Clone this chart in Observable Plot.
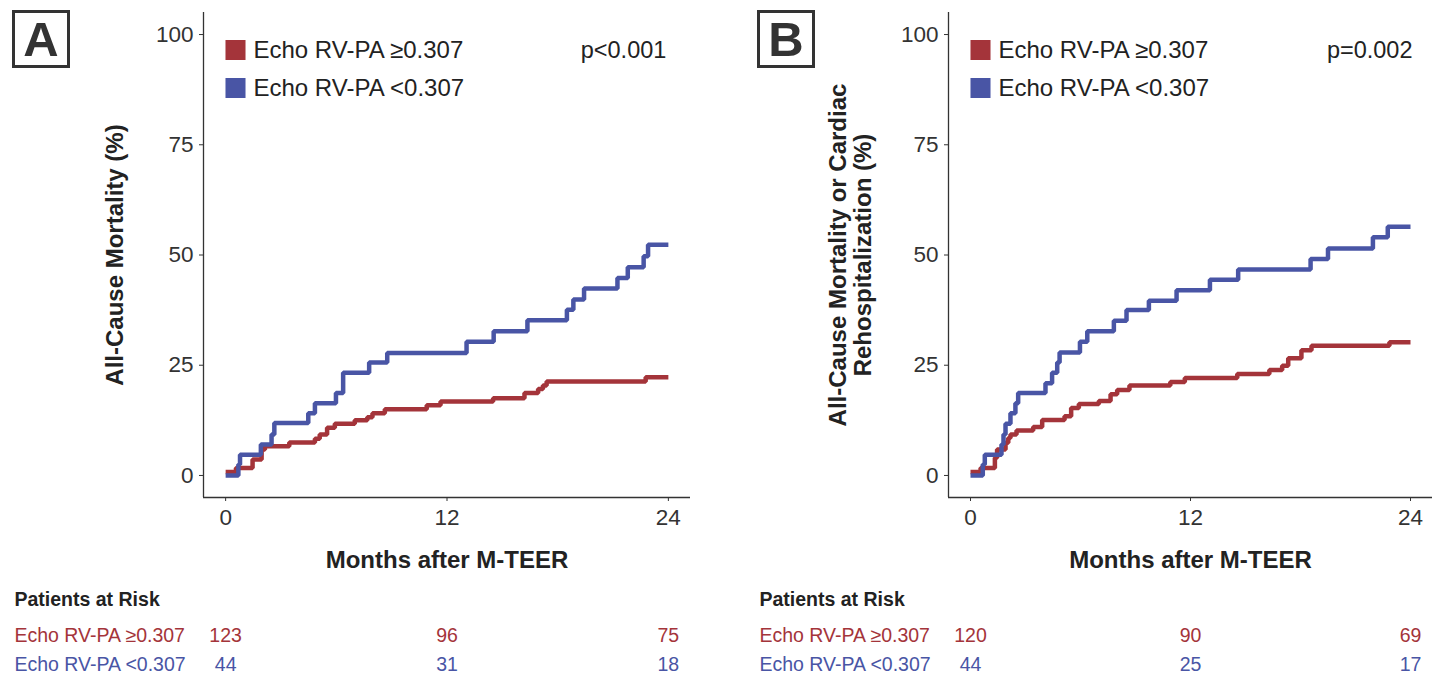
<!DOCTYPE html>
<html>
<head>
<meta charset="utf-8">
<script src="https://cdn.jsdelivr.net/npm/d3@7"></script>
<script src="https://cdn.jsdelivr.net/npm/@observablehq/plot@0.6"></script>
<style>
  body { margin: 0; background: #fff; }
  #wrap { position: relative; width: 1450px; height: 690px; display: flex; font-family: "Liberation Sans", Arial, sans-serif; }
  .panel { position: relative; height: 690px; }
  .letter { position: absolute; left: 12px; top: 10px; width: 58px; height: 58px; box-sizing: border-box;
    border: 3.5px solid #333; color: #333; font: bold 49px "Liberation Sans", Arial, sans-serif;
    display: flex; align-items: center; justify-content: center; line-height: 1; }
</style>
</head>
<body>
<div id="wrap">
  <div class="panel" id="pA" style="width:745px"><div class="letter">A</div></div>
  <div class="panel" id="pB" style="width:705px"><div class="letter">B</div></div>
</div>
<script>
// ---------- data ----------
const groups = ["Echo RV-PA ≥0.307", "Echo RV-PA <0.307"];
const colors = ["#A4343A", "#4955A5"];
const xTicks = [0, 12, 24];
const yTicks = [0, 25, 50, 75, 100];
const xDomain = [-1.2, 25.2];
const yDomain = [-5, 105];
const riskTimes = [0, 12, 24];
const xTitle = "Months after M-TEER";
const riskTitle = "Patients at Risk";

// Panel A: All-cause mortality
const aTitle = "All-Cause Mortality (%)";
const aP = "p<0.001";
const aHighT = [0, 0.56, 1.46, 1.95, 2.13, 3.45, 4.84, 5.1, 5.5, 5.92, 7.0, 7.68, 7.96, 8.63, 10.9, 11.65, 14.5, 16.2, 16.94, 17.2, 17.4, 22.77, 24];
const aHighV = [0.8, 1.7, 3.6, 5.9, 6.6, 7.5, 8.3, 9.3, 10.8, 11.7, 12.5, 13.2, 14.1, 15.0, 15.9, 16.8, 17.5, 18.7, 19.6, 20.4, 21.3, 22.3, 22.3];
const aLowT = [0, 0.69, 0.78, 1.91, 2.49, 2.64, 4.48, 4.84, 5.98, 6.37, 7.78, 8.76, 13.06, 14.53, 16.36, 18.5, 18.85, 19.43, 21.24, 21.8, 22.66, 22.9, 24];
const aLowV = [0, 2.5, 4.7, 7.0, 9.3, 11.9, 14.1, 16.4, 18.7, 23.3, 25.6, 27.8, 30.3, 32.7, 35.2, 37.6, 39.9, 42.4, 44.8, 47.2, 49.7, 52.3, 52.3];
const aRiskHigh = [123, 96, 75];
const aRiskLow = [44, 31, 18];

// Panel B: All-cause mortality or cardiac rehospitalization
const bTitle = "All-Cause Mortality or Cardiac\nRehospitalization (%)";
const bP = "p=0.002";
const bHighT = [0, 0.55, 1.33, 1.45, 1.91, 2.06, 2.18, 2.51, 3.42, 3.91, 5.13, 5.49, 5.91, 7.0, 7.64, 8.0, 8.67, 10.9, 11.69, 14.55, 16.3, 17.0, 17.33, 18.05, 18.6, 22.85, 24];
const bHighV = [0.8, 1.7, 4.0, 5.9, 7.4, 8.5, 9.3, 10.2, 11.0, 12.6, 13.4, 15.3, 16.2, 16.9, 18.4, 19.4, 20.4, 21.2, 22.1, 23.0, 23.9, 24.9, 26.6, 28.4, 29.4, 30.2, 30.2];
const bLowT = [0, 0.67, 0.78, 1.69, 1.8, 1.91, 2.18, 2.45, 2.6, 4.09, 4.45, 4.73, 4.86, 5.97, 6.37, 7.82, 8.51, 9.73, 11.24, 13.06, 14.6, 18.55, 19.5, 21.95, 22.76, 24];
const bLowV = [0, 2.5, 4.7, 7.0, 9.3, 11.7, 14.1, 16.4, 18.7, 20.9, 23.3, 25.6, 27.9, 30.3, 32.7, 35.1, 37.5, 39.6, 42.0, 44.4, 46.7, 49.1, 51.5, 54.0, 56.4, 56.4];
const bRiskHigh = [120, 90, 69];
const bRiskLow = [44, 25, 17];

// ---------- build ----------
const FONT = '"Liberation Sans", Arial, sans-serif';
const TXT = "#333";

function series(T, V, g) { return T.map((t, i) => ({t, v: V[i], g})); }

function panel({width, marginRight, highT, highV, lowT, lowV, yTitle, yTitleDx, pval, pDx, riskHigh, riskLow}) {
  const data = [...series(highT, highV, groups[0]), ...series(lowT, lowV, groups[1])];
  const risk = [riskHigh, riskLow];
  const marks = [
    Plot.ruleX([xDomain[0]], {stroke: TXT, strokeWidth: 1.3}),
    Plot.ruleY([yDomain[0]], {stroke: TXT, strokeWidth: 1.3}),
    Plot.axisX({ticks: xTicks, tickSize: 4, tickPadding: 8, fontSize: 22.5, label: null, stroke: TXT, fill: TXT}),
    Plot.axisY({ticks: yTicks, tickSize: 4, tickPadding: 6, fontSize: 22.5, label: null, stroke: TXT, fill: TXT}),
    Plot.line(data, {x: "t", y: "v", z: "g", stroke: "g", curve: "step-after", strokeWidth: 4.5,
      strokeLinejoin: "miter", strokeLinecap: "butt"}),
    Plot.text([xTitle], {frameAnchor: "bottom", dy: 63, fontSize: 24, fontWeight: "bold", fill: "#222",
      textAnchor: "middle", lineAnchor: "middle"}),
    Plot.text([yTitle], {frameAnchor: "left", dx: yTitleDx, rotate: -90, fontSize: 24, fontWeight: "bold",
      fill: "#222", textAnchor: "middle", lineAnchor: "middle", lineHeight: 1.04}),
    Plot.text([{t: xTicks[xTicks.length - 1], label: pval}], {x: "t", text: "label", frameAnchor: "top", dy: 38, dx: pDx,
      textAnchor: "end", lineAnchor: "middle", fontSize: 23.5, fill: "#222"}),
    Plot.text([riskTitle], {frameAnchor: "bottom-left", dx: -189, dy: 102, textAnchor: "start",
      lineAnchor: "middle", fontSize: 19.5, fontWeight: "bold", fill: "#222"})
  ];
  groups.forEach((g, i) => {
    marks.push(
      Plot.dot([g], {frameAnchor: "top-left", dx: 32, dy: 37.5 + 38 * i, symbol: "square", r: 11.3, fill: d => d, stroke: null}),
      Plot.text([g], {frameAnchor: "top-left", dx: 50, dy: 37.5 + 38 * i, textAnchor: "start", lineAnchor: "middle",
        fontSize: 24, fill: "#222"}),
      Plot.text([g], {frameAnchor: "bottom-left", dx: -189, dy: 138 + 29 * i, textAnchor: "start",
        lineAnchor: "middle", fontSize: 19.5, fill: d => d}),
      Plot.text(riskTimes.map((t, j) => ({t, n: risk[i][j], g})), {x: "t", text: "n", frameAnchor: "bottom",
        dy: 138 + 29 * i, textAnchor: "middle", lineAnchor: "middle", fontSize: 19.5, fill: "g"})
    );
  });
  return Plot.plot({
    width, height: 690,
    marginLeft: 203, marginRight, marginTop: 12, marginBottom: 193,
    style: {fontFamily: FONT, fontSize: "22px", color: TXT, background: "transparent", overflow: "visible"},
    x: {domain: xDomain},
    y: {domain: yDomain},
    color: {domain: groups, range: colors},
    marks
  });
}

document.getElementById("pA").prepend(panel({
  width: 745, marginRight: 55, highT: aHighT, highV: aHighV, lowT: aLowT, lowV: aLowV,
  yTitle: aTitle, yTitleDx: -89, pval: aP, pDx: -2, riskHigh: aRiskHigh, riskLow: aRiskLow
}));
document.getElementById("pB").prepend(panel({
  width: 705, marginRight: 18, highT: bHighT, highV: bHighV, lowT: bLowT, lowV: bLowV,
  yTitle: bTitle, yTitleDx: -98, pval: bP, pDx: 2, riskHigh: bRiskHigh, riskLow: bRiskLow
}));
</script>
</body>
</html>
